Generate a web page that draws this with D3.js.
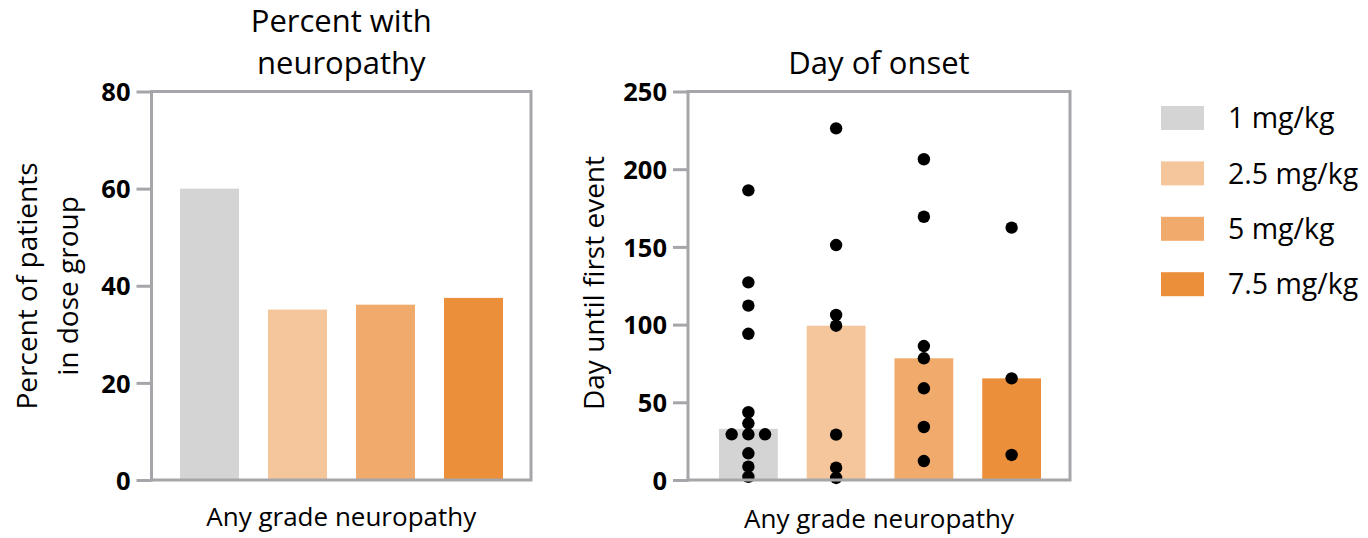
<!DOCTYPE html>
<html>
<head>
<meta charset="utf-8">
<script src="https://cdn.jsdelivr.net/npm/d3@7/dist/d3.min.js"></script>
<style>
  html, body { margin: 0; padding: 0; background: #ffffff; }
  svg { display: block; }
  text { font-family: "Open Sans", "Noto Sans", sans-serif; fill: #000; }
</style>
</head>
<body>
<svg id="chart" width="1368" height="538"></svg>
<script>
// Dose groups
const doseLabels = ["1 mg/kg", "2.5 mg/kg", "5 mg/kg", "7.5 mg/kg"];
const doseColors = ["#d4d4d4", "#f5c69b", "#f0aa6b", "#ec8f3b"];

// Percent of patients in each dose group with any grade neuropathy
const percentNeuropathy = [60, 35.1, 36.1, 37.5];
const percentTicks = [0, 20, 40, 60, 80];

// Day until first neuropathy event, one value per patient
const onset1mg = [186.4, 127.2, 112.2, 94.1, 43.6, 36.5, 29.4, 29.4, 29.4, 17.2, 8.6, 2];
const onset2_5mg = [226.3, 151.2, 106.2, 99.3, 29.2, 7.9, 1.3];
const onset5mg = [206.4, 169.4, 86.2, 78.3, 59, 34.1, 12.2];
const onset7_5mg = [162.4, 65.4, 16.1];
const dayTicks = [0, 50, 100, 150, 200, 250];

const categoryLabel = "Any grade neuropathy";

const svg = d3.select("#chart");
const axisColor = "#a6a6aa";
const axisWidth = 3;

function drawPanel(opts) {
  const g = svg.append("g");
  const x = d3.scaleBand()
    .domain(doseLabels)
    .range([opts.bandStart, opts.bandEnd])
    .paddingInner(0.33)
    .paddingOuter(0.165);
  const y = d3.scaleLinear().domain(opts.domain).range([opts.bottom, opts.top]);

  // bars
  g.selectAll("rect.bar")
    .data(opts.barValues.map((v, i) => ({ dose: doseLabels[i], v, c: doseColors[i] })))
    .join("rect")
    .attr("class", "bar")
    .attr("x", d => x(d.dose))
    .attr("width", x.bandwidth())
    .attr("y", d => y(d.v))
    .attr("height", d => y(0) - y(d.v))
    .attr("fill", d => d.c);

  // individual patient points; identical values sit side by side
  if (opts.points) {
    const spread = 16.7;
    const pts = [];
    opts.points.forEach((vals, i) => {
      const groups = d3.group(vals, v => v);
      groups.forEach((arr, v) => {
        arr.forEach((_, k) => {
          pts.push({ dose: doseLabels[i], v, off: (k - (arr.length - 1) / 2) * spread });
        });
      });
    });
    g.selectAll("circle.pt")
      .data(pts)
      .join("circle")
      .attr("class", "pt")
      .attr("cx", d => x(d.dose) + x.bandwidth() / 2 + d.off)
      .attr("cy", d => y(d.v))
      .attr("r", 6.2)
      .attr("fill", "#000");
  }

  // frame: top, right, bottom
  g.append("path")
    .attr("d", `M${opts.left},${opts.top}H${opts.right}V${opts.bottom}H${opts.left}`)
    .attr("fill", "none")
    .attr("stroke", axisColor)
    .attr("stroke-width", axisWidth);

  // y axis
  const ax = g.append("g")
    .attr("transform", `translate(${opts.left},0)`)
    .call(d3.axisLeft(y).tickValues(opts.ticks).tickSize(15).tickSizeOuter(0).tickPadding(6));
  ax.select(".domain")
    .attr("stroke", axisColor)
    .attr("stroke-width", axisWidth)
    .attr("d", `M0,${opts.top - axisWidth / 2}V${opts.bottom + axisWidth / 2}`);
  ax.selectAll(".tick line").attr("stroke", axisColor).attr("stroke-width", axisWidth);
  ax.selectAll(".tick text")
    .attr("fill", "#000")
    .style("font-family", "'Open Sans', sans-serif")
    .style("font-weight", "700")
    .style("font-size", "25.5px")
    .attr("dy", "0.36em");

  const cx = (opts.left + opts.right) / 2;

  // title
  const title = g.append("text")
    .attr("text-anchor", "middle")
    .style("font-size", "31px");
  opts.title.forEach((line, i) => {
    title.append("tspan")
      .attr("x", cx)
      .attr("y", opts.titleBaseline - (opts.title.length - 1 - i) * 42)
      .text(line);
  });

  // x category label
  g.append("text")
    .attr("x", cx)
    .attr("y", opts.xLabelBaseline)
    .attr("text-anchor", "middle")
    .style("font-size", "26px")
    .text(categoryLabel);

  // y axis title
  const yt = g.append("text")
    .attr("transform", `translate(${opts.yTitleX},${opts.yTitleY}) rotate(-90)`)
    .attr("text-anchor", "middle")
    .style("font-size", "28px");
  opts.yTitle.forEach((line, i) => {
    yt.append("tspan")
      .attr("x", 0)
      .attr("y", i * 41)
      .text(line);
  });
}

drawPanel({
  left: 151.5, right: 531, top: 91.5, bottom: 480,
  bandStart: 165.5, bandEnd: 517.5,
  domain: [0, 80], ticks: percentTicks,
  barValues: percentNeuropathy,
  title: ["Percent with", "neuropathy"], titleBaseline: 74,
  yTitle: ["Percent of patients", "in dose group"], yTitleX: 37, yTitleY: 286,
  xLabelBaseline: 526
});

const onsetSeries = [onset1mg, onset2_5mg, onset5mg, onset7_5mg];
drawPanel({
  left: 688, right: 1070, top: 91.5, bottom: 480,
  bandStart: 704.5, bandEnd: 1055.5,
  domain: [0, 250], ticks: dayTicks,
  barValues: onsetSeries.map(s => d3.median(s)),
  points: onsetSeries,
  title: ["Day of onset"], titleBaseline: 74,
  yTitle: ["Day until first event"], yTitleX: 604, yTitleY: 283,
  xLabelBaseline: 528
});

// legend
const legend = svg.append("g");
const rows = legend.selectAll("g")
  .data(doseLabels.map((d, i) => ({ d, c: doseColors[i], i })))
  .join("g")
  .attr("transform", d => `translate(1161,${118 + d.i * 55.4})`);
rows.append("rect")
  .attr("x", 0).attr("y", -12)
  .attr("width", 43).attr("height", 24)
  .attr("fill", d => d.c);
rows.append("text")
  .attr("x", 67)
  .attr("dy", "0.36em")
  .style("font-size", "28.5px")
  .text(d => d.d);
</script>
</body>
</html>
